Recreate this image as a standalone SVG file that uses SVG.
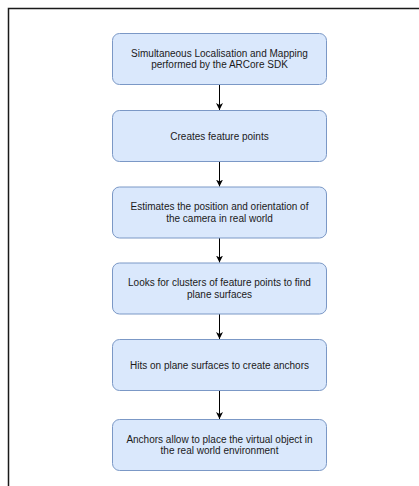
<svg xmlns="http://www.w3.org/2000/svg" width="419" height="486" viewBox="0 0 419 486">
  <defs>
    <style>
      .box { fill: #dae8fc; stroke: #7b98c6; stroke-width: 1; }
      .lbl { font-family: "Liberation Sans", Arial, Helvetica, sans-serif; font-size: 10px; fill: #1a1a1a; text-anchor: middle; }
      .edge { stroke: #000000; stroke-width: 1; fill: none; marker-end: url(#arrow); }
      .frame { stroke: #1a1a1a; stroke-width: 1.5; fill: none; }
    </style>
    <marker id="arrow" viewBox="0 0 10 10" refX="10" refY="5" markerWidth="7" markerHeight="7" markerUnits="userSpaceOnUse" orient="auto">
      <path d="M0,0 L10,5 L0,10 L3,5 Z" fill="#000000"/>
    </marker>
  </defs>
  <rect width="419" height="486" fill="#ffffff"/>
  <path class="frame" d="M8.5,486 L8.5,8.5 L419,8.5"/>

  <g id="connectors">
    <line class="edge" x1="219.5" y1="85" x2="219.5" y2="110"/>
    <line class="edge" x1="219.5" y1="161.5" x2="219.5" y2="186.5"/>
    <line class="edge" x1="219.5" y1="238" x2="219.5" y2="262.5"/>
    <line class="edge" x1="219.5" y1="314" x2="219.5" y2="339"/>
    <line class="edge" x1="219.5" y1="390.5" x2="219.5" y2="419"/>
  </g>

  <g id="n1">
    <rect class="box" x="112.5" y="33.5" width="214" height="51" rx="7"/>
    <text class="lbl" x="219.5" y="56.5">Simultaneous Localisation and Mapping</text>
    <text class="lbl" x="219.5" y="68">performed by the ARCore SDK</text>
  </g>
  <g id="n2">
    <rect class="box" x="112.5" y="110.5" width="214" height="51" rx="7"/>
    <text class="lbl" x="219.5" y="139.5">Creates feature points</text>
  </g>
  <g id="n3">
    <rect class="box" x="112.5" y="187" width="214" height="51" rx="7"/>
    <text class="lbl" x="219.5" y="210">Estimates the position and orientation of</text>
    <text class="lbl" x="219.5" y="221.5">the camera in real world</text>
  </g>
  <g id="n4">
    <rect class="box" x="112.5" y="263" width="214" height="51" rx="7"/>
    <text class="lbl" x="219.5" y="286">Looks for clusters of feature points to find</text>
    <text class="lbl" x="219.5" y="297.5">plane surfaces</text>
  </g>
  <g id="n5">
    <rect class="box" x="112.5" y="339.5" width="214" height="51" rx="7"/>
    <text class="lbl" x="219.5" y="368.5">Hits on plane surfaces to create anchors</text>
  </g>
  <g id="n6">
    <rect class="box" x="112.5" y="419.5" width="214" height="51" rx="7"/>
    <text class="lbl" x="219.5" y="442.5">Anchors allow to place the virtual object in</text>
    <text class="lbl" x="219.5" y="454">the real world environment</text>
  </g>
</svg>
